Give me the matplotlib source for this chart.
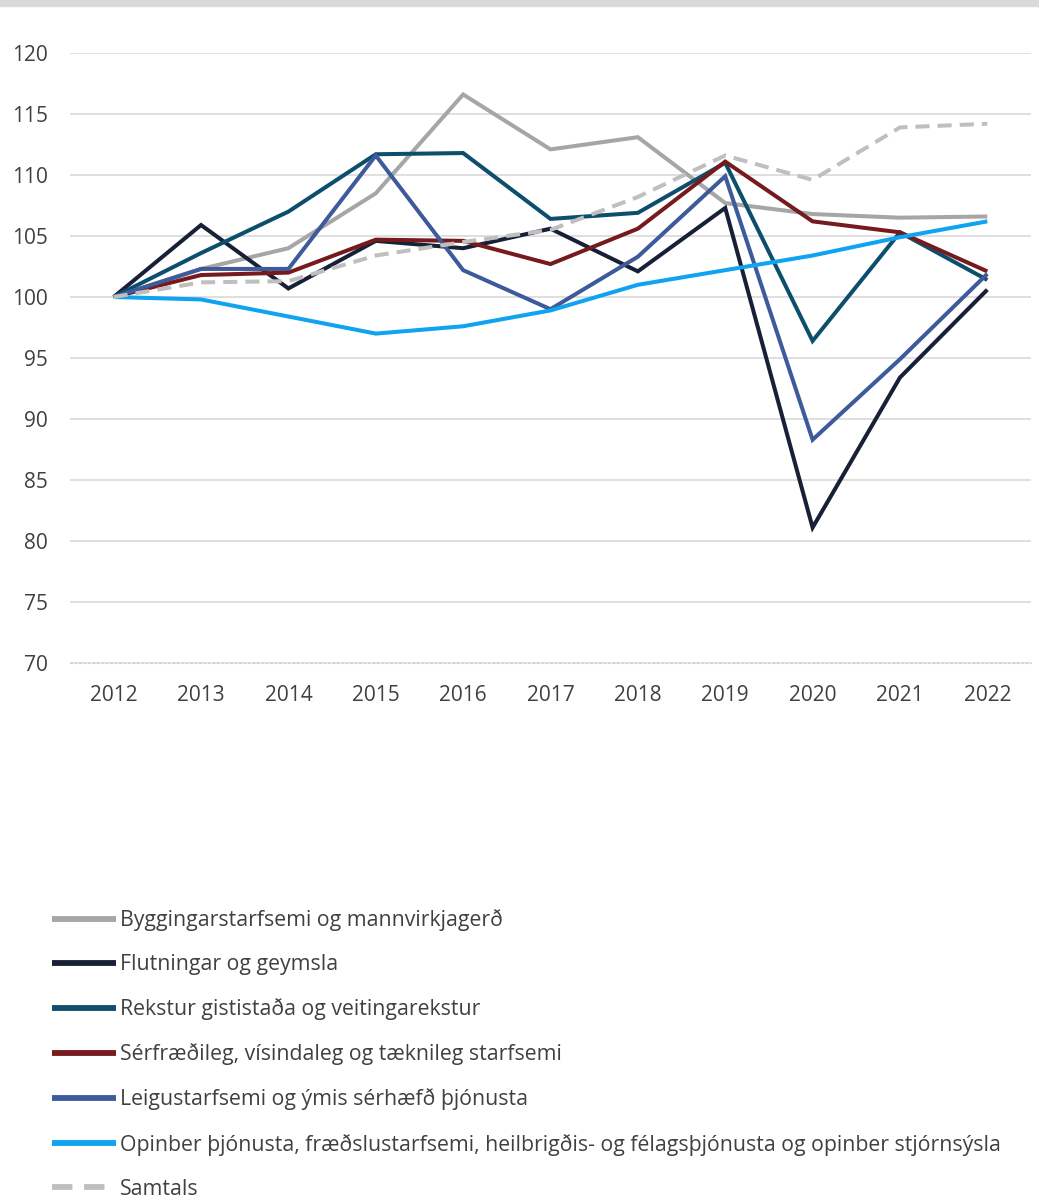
import matplotlib
matplotlib.use("Agg")
import matplotlib.pyplot as plt
from matplotlib.patches import Rectangle

plt.rcParams['font.family'] = ['Open Sans', 'DejaVu Sans']

years = [2012, 2013, 2014, 2015, 2016, 2017, 2018, 2019, 2020, 2021, 2022]

bygging   = [100, 102.3, 104.0, 108.5, 116.6, 112.1, 113.1, 107.7, 106.8, 106.5, 106.6]
flutning  = [100, 105.9, 100.7, 104.6, 104.0, 105.6, 102.1, 107.3, 81.1, 93.4, 100.6]
rekstur   = [100, 103.6, 107.0, 111.7, 111.8, 106.4, 106.9, 111.0, 96.4, 105.3, 101.4]
serfraedi = [100, 101.8, 102.0, 104.7, 104.6, 102.7, 105.6, 111.1, 106.2, 105.3, 102.1]
leigu     = [100, 102.3, 102.3, 111.6, 102.2, 99.0, 103.3, 109.9, 88.3, 94.9, 101.9]
opinber   = [100, 99.8, 98.4, 97.0, 97.6, 98.9, 101.0, 102.2, 103.4, 104.9, 106.2]
samtals   = [100, 101.2, 101.3, 103.4, 104.5, 105.5, 108.2, 111.6, 109.6, 113.9, 114.2]

labels = [
    "Byggingarstarfsemi og mannvirkjagerð",
    "Flutningar og geymsla",
    "Rekstur gististaða og veitingarekstur",
    "Sérfræðileg, vísindaleg og tæknileg starfsemi",
    "Leigustarfsemi og ýmis sérhæfð þjónusta",
    "Opinber þjónusta, fræðslustarfsemi, heilbrigðis- og félagsþjónusta og opinber stjórnsýsla",
    "Samtals",
]
series = [bygging, flutning, rekstur, serfraedi, leigu, opinber, samtals]
colors = ["#A6A6A6", "#172036", "#0D4E6C", "#761A1E", "#3D5A9A", "#0FA3F0", "#BFBFBF"]

fig = plt.figure(figsize=(10.39, 12.01), dpi=100)
ax = fig.add_axes([70 / 1039, 1 - 663 / 1201, 961 / 1039, 610 / 1201])

# grey strip along the top edge
fig.patches.append(Rectangle((0, 1 - 6 / 1201), 1, 6 / 1201, transform=fig.transFigure,
                             color="#D9D9D9", zorder=0))

for vals, lab, col in zip(series, labels, colors):
    ls = (0, (3.5, 2)) if lab == "Samtals" else "-"
    ax.plot(years, vals, color=col, lw=2.9, ls=ls, label=lab,
            solid_joinstyle="miter", solid_capstyle="butt")

ax.set_xlim(2011.5, 2022.5)
ax.set_ylim(70, 120)
ax.set_yticks(range(70, 121, 5))
ax.set_xticks(years)
ax.yaxis.grid(True, color="#D9D9D9", lw=1.2)
ax.set_axisbelow(True)
for s in ["top", "right", "left"]:
    ax.spines[s].set_visible(False)
ax.spines["bottom"].set_color("#D0D0D0")
ax.spines["bottom"].set_linestyle((0, (2, 2)))
ax.tick_params(axis="both", length=0, labelsize=15, labelcolor="#404040")
ax.tick_params(axis="y", pad=16)
ax.tick_params(axis="x", pad=16)

handles, labs = ax.get_legend_handles_labels()
leg = fig.legend(handles, labs, loc="upper left", bbox_to_anchor=(52 / 1039, 1 - 909 / 1201),
                 frameon=False, fontsize=15.3, handlelength=3.0, handletextpad=0.2,
                 labelspacing=1.09, borderaxespad=0, borderpad=0)
for t in leg.get_texts():
    t.set_color("#404040")
for h in leg.legend_handles:
    h.set_linewidth(4.2)

fig.savefig("out.png", dpi=100)
